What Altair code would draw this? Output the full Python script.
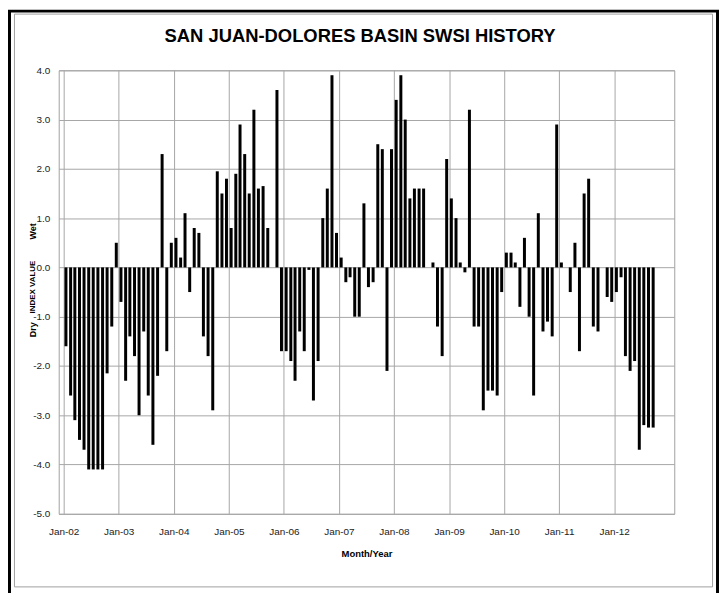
import altair as alt
import pandas as pd

# SWSI monthly index values (None = no bar drawn)
swsi_2002 = [-1.6, -2.6, -3.1, -3.5, -3.7, -4.1, -4.1, -4.1, -4.1, -2.15, -1.2, 0.5]
swsi_2003 = [-0.7, -2.3, -1.4, -1.8, -3.0, -1.3, -2.6, -3.6, -2.2, 2.3, -1.7, 0.5]
swsi_2004 = [0.6, 0.2, 1.1, -0.5, 0.8, 0.7, -1.4, -1.8, -2.9, 1.95, 1.5, 1.8]
swsi_2005 = [0.8, 1.9, 2.9, 2.3, 1.5, 3.2, 1.6, 1.65, 0.8, None, 3.6, -1.7]
swsi_2006 = [-1.7, -1.9, -2.3, -1.3, -1.7, -0.05, -2.7, -1.9, 1.0, 1.6, 3.9, 0.7]
swsi_2007 = [0.2, -0.3, -0.2, -1.0, -1.0, 1.3, -0.4, -0.3, 2.5, 2.4, -2.1, 2.4]
swsi_2008 = [3.4, 3.9, 3.0, 1.4, 1.6, 1.6, 1.6, None, 0.1, -1.2, -1.8, 2.2]
swsi_2009 = [1.4, 1.0, 0.1, -0.1, 3.2, -1.2, -1.2, -2.9, -2.5, -2.5, -2.6, -0.5]
swsi_2010 = [0.3, 0.3, 0.1, -0.8, 0.6, -1.0, -2.6, 1.1, -1.3, -1.1, -1.4, 2.9]
swsi_2011 = [0.1, None, -0.5, 0.5, -1.7, 1.5, 1.8, -1.2, -1.3, None, -0.6, -0.7]
swsi_2012 = [-0.5, -0.2, -1.8, -2.1, -1.9, -3.7, -3.2, -3.25, -3.25]

label_years = list(range(2002, 2013))
y_ticks = [4, 3, 2, 1, 0, -1, -2, -3, -4, -5]

title_text = "SAN JUAN-DOLORES BASIN SWSI HISTORY"
x_title = "Month/Year"
y_title_parts = ["Wet", "INDEX VALUE", "Dry"]

values = (swsi_2002 + swsi_2003 + swsi_2004 + swsi_2005 + swsi_2006 + swsi_2007
          + swsi_2008 + swsi_2009 + swsi_2010 + swsi_2011 + swsi_2012)
dates = pd.date_range("2002-01-01", periods=len(values), freq="MS") + pd.Timedelta(days=15)
df = pd.DataFrame({"date": dates, "value": values})

FONT = "Liberation Sans"

PW, PH = 619, 446

bars = alt.Chart(df).mark_bar(color="black", width=3).encode(
    x=alt.X(
        "date:T",
        scale=alt.Scale(domain=[alt.DateTime(year=2002, month=1, date=1),
                                alt.DateTime(year=2013, month=1, date=1)]),
        axis=alt.Axis(
            values=[alt.DateTime(year=y, month=1, date=1) for y in label_years],
            format="%b-%y",
            title=x_title,
            titleY=40,
            titleBaseline="middle",
            titleFontWeight="bold",
            titleFontSize=9.5,
            labelPadding=13,
            labelFlush=False,
        ),
    ),
    y=alt.Y(
        "value:Q",
        scale=alt.Scale(domain=[-5, 4], nice=False),
        axis=alt.Axis(
            values=y_ticks,
            labelExpr="replace(format(datum.value, '.1f'), '\u2212', '-')",
            title=None,
            labelPadding=9,
        ),
    ),
)

def text_layer(txt, x, y, size, angle=0):
    return alt.Chart(pd.DataFrame({"t": [txt]})).mark_text(
        font=FONT, fontSize=size, fontWeight="bold", angle=angle,
        align="center", baseline="middle", color="black",
    ).encode(text="t:N", x=alt.value(x), y=alt.value(y))

title = text_layer(title_text, 303, -34, 18.5)
y_wet = text_layer(y_title_parts[0], -26, 162, 9, 270)
y_idx = text_layer(y_title_parts[1], -26, 218, 8, 270)
y_dry = text_layer(y_title_parts[2], -26, 261, 9, 270)

one = pd.DataFrame({"a": [0]})
grey_box = alt.Chart(one).mark_rect(fill=None, stroke="#a0a0a0", strokeWidth=1).encode(
    x=alt.value(-44.5), x2=alt.value(657.5), y=alt.value(-56.5), y2=alt.value(519.5)
)
black_box = alt.Chart(one).mark_rect(fill=None, stroke="black", strokeWidth=3).encode(
    x=alt.value(-49.5), x2=alt.value(662.5), y=alt.value(-59.5), y2=alt.value(545)
)

chart = alt.layer(bars, title, y_wet, y_idx, y_dry, grey_box, black_box).properties(
    width=PW,
    height=PH,
    autosize=alt.AutoSizeParams(type="none"),
    padding={"left": 51, "top": 61, "right": 46, "bottom": 78},
    background="white",
).configure_view(
    stroke="#a0a0a0", strokeWidth=1
).configure_axis(
    grid=True,
    gridColor="#a6a6a6",
    gridWidth=1,
    domain=False,
    ticks=False,
    tickSize=0,
    labelFont=FONT,
    labelFontSize=10,
    labelColor="#222222",
    titleFont=FONT,
    titleColor="black",
)

chart.save("out.html", embed_options={"renderer": "svg", "actions": False})
